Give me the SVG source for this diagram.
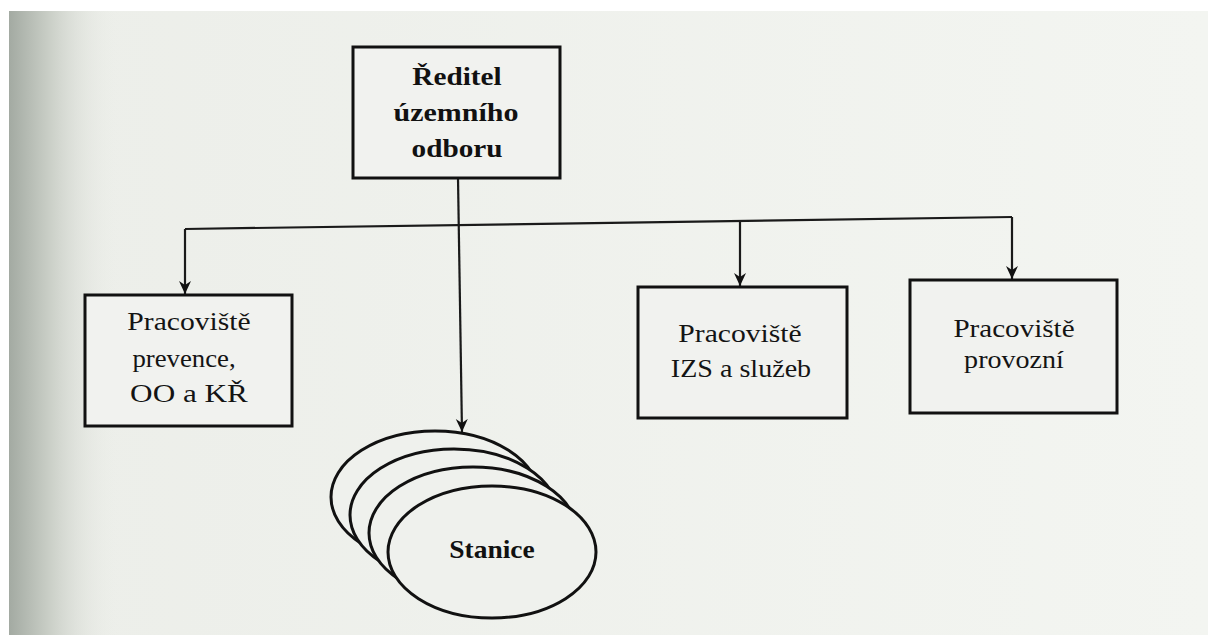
<svg xmlns="http://www.w3.org/2000/svg" width="1208" height="635" viewBox="0 0 1208 635">
<style>
.box{fill:#f1f2ef;stroke:#111;stroke-width:3}
.ell{fill:#eff1ed;stroke:#111;stroke-width:3}
.con{fill:none;stroke:#1a1a1a;stroke-width:2.2}
.t{font-family:"Liberation Serif",serif;font-size:26px;fill:#141414;text-anchor:middle}
.tb{font-family:"Liberation Serif",serif;font-size:25px;font-weight:bold;fill:#111;text-anchor:middle}
</style>
<defs>
<linearGradient id="edge" x1="0" y1="0" x2="1" y2="0">
<stop offset="0" stop-color="#a3aaa2"/>
<stop offset="0.35" stop-color="#c8cdc5"/>
<stop offset="1" stop-color="#eceee9" stop-opacity="0"/>
</linearGradient>
<linearGradient id="page" x1="0" y1="0" x2="1" y2="0">
<stop offset="0" stop-color="#eceee9"/>
<stop offset="1" stop-color="#f3f5f1"/>
</linearGradient>
<marker id="arr" markerUnits="userSpaceOnUse" markerWidth="14" markerHeight="16" refX="13" refY="7" orient="auto">
<path d="M0,1 L13,7 L0,13 L4,7 Z" fill="#111"/>
</marker>
</defs>
<rect width="1208" height="635" fill="#ffffff"/>
<rect x="9" y="11" width="1199" height="624" fill="url(#page)"/>
<rect x="9" y="11" width="110" height="624" fill="url(#edge)"/>

<g id="connectors">
<line class="con" x1="458" y1="178" x2="462" y2="432" marker-end="url(#arr)"/>
<line class="con" x1="185" y1="229" x2="1012" y2="217"/>
<line class="con" x1="185" y1="229" x2="185" y2="294" marker-end="url(#arr)"/>
<line class="con" x1="740" y1="222" x2="740" y2="286" marker-end="url(#arr)"/>
<line class="con" x1="1012" y1="217" x2="1012" y2="279" marker-end="url(#arr)"/>
</g>

<g id="reditel">
<rect class="box" x="353" y="47" width="207" height="131"/>
<text class="tb" transform="translate(457,85) scale(1.17,1)">Ředitel</text>
<text class="tb" transform="translate(456,121) scale(1.2,1)">územního</text>
<text class="tb" transform="translate(457,157) scale(1.17,1)">odboru</text>
</g>

<g id="prevence">
<rect class="box" x="85" y="295" width="207" height="131"/>
<text class="t" transform="translate(189,330) scale(1.14,1)">Pracoviště</text>
<text class="t" transform="translate(184,367) scale(1.03,1)">prevence,</text>
<text class="t" transform="translate(189,402) scale(1.2,1)">OO a KŘ</text>
</g>

<g id="izs">
<rect class="box" x="638" y="287" width="209" height="131"/>
<text class="t" transform="translate(740,342) scale(1.14,1)">Pracoviště</text>
<text class="t" transform="translate(741,377) scale(1.08,1)">IZS a služeb</text>
</g>

<g id="provozni">
<rect class="box" x="910" y="280" width="207" height="133"/>
<text class="t" transform="translate(1014,337) scale(1.12,1)">Pracoviště</text>
<text class="t" transform="translate(1014,368) scale(1.08,1)">provozní</text>
</g>

<g id="stanice">
<ellipse class="ell" cx="435" cy="497" rx="104" ry="66"/>
<ellipse class="ell" cx="454" cy="515" rx="104" ry="66"/>
<ellipse class="ell" cx="473" cy="533" rx="104" ry="66"/>
<ellipse class="ell" cx="492" cy="552" rx="104" ry="66"/>
<text class="tb" font-size="28" transform="translate(492,558) scale(1.1,1)">Stanice</text>
</g>
</svg>
